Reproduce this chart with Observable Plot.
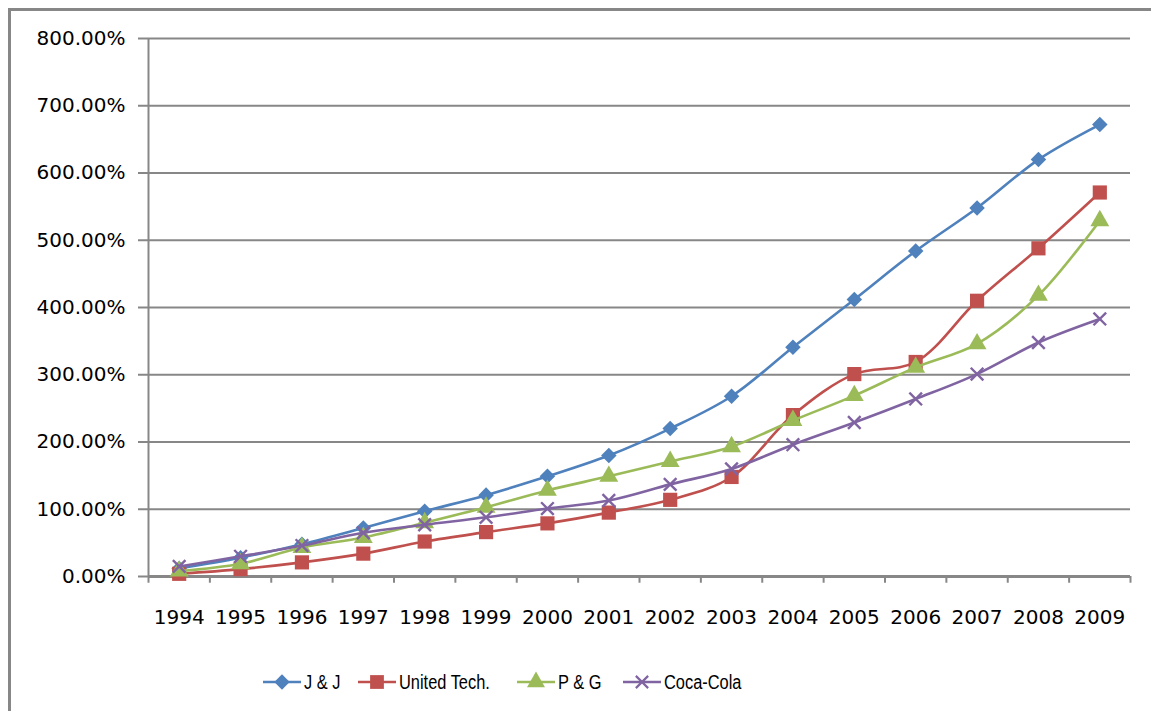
<!DOCTYPE html>
<html>
<head>
<meta charset="utf-8">
<script src="https://cdn.jsdelivr.net/npm/d3@7"></script>
<script src="https://cdn.jsdelivr.net/npm/@observablehq/plot@0.6"></script>
<style>
  html, body { margin: 0; padding: 0; background: #fff; }
  #wrap { position: relative; width: 1151px; height: 711px; overflow: hidden; background: #fff; }
  #frame { position: absolute; left: 8px; top: 8px; width: 1160px; height: 720px;
           border-left: 3px solid #878787; border-top: 3px solid #878787; box-sizing: border-box; }
  #chart { position: absolute; left: 0; top: 0; }
  #legend { position: absolute; left: 0; top: 670px; width: 1151px; height: 24px;
            font-family: "Liberation Sans", Arial, sans-serif; font-size: 20px; color: #000; }
  .item { position: absolute; top: 0; display: flex; align-items: center; height: 24px; white-space: nowrap; }
  .item svg { margin-right: 3px; }
  .item span { display: inline-block; transform: scaleX(0.82); transform-origin: left center; }
</style>
</head>
<body>
<div id="wrap">
  <div id="frame"></div>
  <div id="chart"></div>
  <div id="legend"></div>
</div>
<script>
// ---- data ----
const years = [1994, 1995, 1996, 1997, 1998, 1999, 2000, 2001, 2002, 2003, 2004, 2005, 2006, 2007, 2008, 2009];
const seriesNames = ["J & J", "United Tech.", "P & G", "Coca-Cola"];
const jnj = [12, 28, 48, 72, 97, 121, 149, 180, 220, 268, 341, 412, 484, 548, 620, 672];
const unitedTech = [4, 11, 21, 34, 52, 66, 79, 95, 114, 148, 240, 301, 319, 410, 488, 571];
const pg = [8, 19, 43, 58, 80, 103, 128, 149, 171, 193, 232, 269, 311, 346, 418, 529];
const cocaCola = [15, 30, 46, 65, 77, 88, 101, 113, 137, 160, 196, 229, 264, 301, 348, 383];
const yTicks = [0, 100, 200, 300, 400, 500, 600, 700, 800];
const colors = ["#4F81BD", "#C0504D", "#9BBB59", "#8064A2"];
const symbols = ["diamond2", "square", "triangle", "times"];

const valuesBySeries = [jnj, unitedTech, pg, cocaCola];
const table = [];
seriesNames.forEach((s, i) => years.forEach((yr, j) => table.push({series: s, year: yr, value: valuesBySeries[i][j]})));
const boundaries = years.map(y => y - 0.5).concat([years[years.length - 1] + 0.5]);

const gray = "#878787";
const marks = [
  Plot.gridY(yTicks, {stroke: gray, strokeOpacity: 1, strokeWidth: 2}),
  Plot.axisY(yTicks, {tickSize: 10, tickPadding: 13, fontSize: 20, stroke: gray, strokeWidth: 2,
    fill: "#000", fontFamily: "DejaVu Sans", tickFormat: d => d3.format(".2f")(d) + "%", label: null}),
  Plot.ruleX([boundaries[0]], {y1: 0, y2: 800, stroke: gray, strokeWidth: 2}),
  Plot.ruleX(boundaries, {y1: 0, y2: -10, stroke: gray, strokeWidth: 2}),
  Plot.ruleY([0], {stroke: gray, strokeWidth: 3}),
  Plot.axisX(years, {tickSize: 0, tickPadding: 33, fontSize: 20, fill: "#000", fontFamily: "DejaVu Sans",
    tickFormat: d => String(d), label: null})
];
seriesNames.forEach((s, i) => {
  const rows = table.filter(d => d.series === s);
  marks.push(Plot.line(rows, {x: "year", y: "value", stroke: colors[i], strokeWidth: 2.6, curve: "catmull-rom"}));
  const sym = symbols[i];
  const r = sym === "square" ? 8 : sym === "triangle" ? 7 : sym === "diamond2" ? 7 : 5.8;
  if (sym === "times") {
    marks.push(Plot.dot(rows, {x: "year", y: "value", symbol: sym, r, stroke: colors[i], strokeWidth: 2.4}));
  } else {
    marks.push(Plot.dot(rows, {x: "year", y: "value", symbol: sym, r, fill: colors[i], stroke: "none"}));
  }
});

const chart = Plot.plot({
  width: 1151, height: 640,
  marginLeft: 148, marginRight: 21, marginTop: 38, marginBottom: 64,
  style: {fontFamily: "DejaVu Sans", background: "transparent"},
  x: {type: "linear", domain: [boundaries[0], boundaries[boundaries.length - 1]]},
  y: {domain: [0, 800]},
  marks
});
document.getElementById("chart").appendChild(chart);

// ---- legend ----
const legendLeft = [263, 358, 517, 623];
const legend = document.getElementById("legend");
const symMap = {diamond2: d3.symbolDiamond2, square: d3.symbolSquare, triangle: d3.symbolTriangle, times: d3.symbolTimes};
const sizes = {diamond2: 150, square: 190, triangle: 140, times: 100};
seriesNames.forEach((s, i) => {
  const item = document.createElement("div");
  item.className = "item";
  item.style.left = legendLeft[i] + "px";
  const svg = d3.create("svg").attr("width", 38).attr("height", 24);
  svg.append("line").attr("x1", 0).attr("x2", 38).attr("y1", 12).attr("y2", 12)
    .attr("stroke", colors[i]).attr("stroke-width", 2.6);
  const p = svg.append("path").attr("transform", "translate(19,12)")
    .attr("d", d3.symbol(symMap[symbols[i]], sizes[symbols[i]])());
  if (symbols[i] === "times") p.attr("fill", "none").attr("stroke", colors[i]).attr("stroke-width", 2.2);
  else p.attr("fill", colors[i]);
  item.appendChild(svg.node());
  const t = document.createElement("span");
  t.textContent = s;
  item.appendChild(t);
  legend.appendChild(item);
});
</script>
</body>
</html>
